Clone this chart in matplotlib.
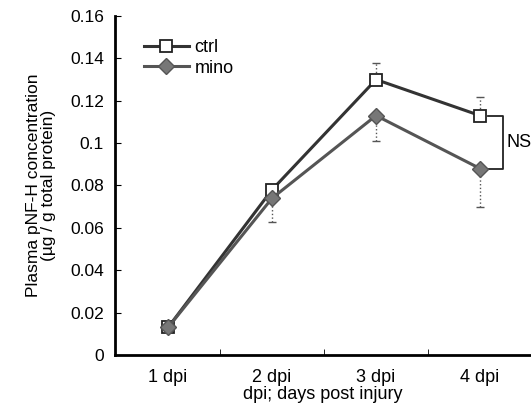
import matplotlib.pyplot as plt
import numpy as np

plt.rcParams['font.family'] = ['Liberation Sans', 'DejaVu Sans']

days = ['1 dpi', '2 dpi', '3 dpi', '4 dpi']
ctrl = [0.013, 0.078, 0.130, 0.113]
ctrl_err = [0.0, 0.0, 0.008, 0.009]
mino = [0.013, 0.074, 0.113, 0.088]
mino_err = [0.0, 0.011, 0.012, 0.018]
yticks = [0, 0.02, 0.04, 0.06, 0.08, 0.1, 0.12, 0.14, 0.16]
ytick_labels = ['0', '0.02', '0.04', '0.06', '0.08', '0.1', '0.12', '0.14', '0.16']

x = np.arange(1, len(days) + 1)

fig = plt.figure(figsize=(5.31, 4.04), dpi=100)
ax = fig.add_axes([0.2166, 0.1213, 0.7834, 0.8391])

# error bars: ctrl up only, mino down only
ax.errorbar(x, ctrl, yerr=[np.zeros(4), ctrl_err], fmt='none', ecolor='#555555',
            elinewidth=1, capsize=3, capthick=1, zorder=1)
ax.errorbar(x, mino, yerr=[mino_err, np.zeros(4)], fmt='none', ecolor='#555555',
            elinewidth=1, capsize=3, capthick=1, zorder=1)
for c in ax.collections:
    c.set_linestyle(':')

ax.plot(x, ctrl, color='#333333', lw=2.2, marker='s', ms=8.5, mfc='white',
        mec='#222222', mew=1.3, label='ctrl', zorder=3)
ax.plot(x, mino, color='#555555', lw=2.2, marker='D', ms=8, mfc='#777777',
        mec='#555555', mew=1, label='mino', zorder=4)

# NS bracket between 4 dpi points
ax.plot([4.08, 4.22, 4.22, 4.08], [ctrl[3], ctrl[3], mino[3], mino[3]],
        color='#222222', lw=1.3, clip_on=False)
ax.text(4.25, (ctrl[3] + mino[3]) / 2, 'NS', fontsize=13, va='center', ha='left',
        clip_on=False)

ax.set_xlim(0.49, 4.49)
ax.set_ylim(0, 0.16)
ax.set_xticks(x)
ax.set_xticklabels(days, fontsize=13)
ax.set_xticks([1.5, 2.5, 3.5], minor=True)
ax.tick_params(axis='x', which='major', length=0, pad=10)
ax.tick_params(axis='x', which='minor', direction='in', length=4)
ax.set_yticks(yticks)
ax.set_yticklabels(ytick_labels, fontsize=12.5)
ax.tick_params(axis='y', direction='in', length=4, pad=8)

ax.spines['top'].set_visible(False)
ax.spines['right'].set_visible(False)
ax.spines['left'].set_linewidth(2)
ax.spines['bottom'].set_linewidth(2)

ax.set_xlabel('dpi; days post injury', fontsize=13, labelpad=0)
ax.set_ylabel('Plasma pNF-H concentration\n(µg / g total protein)', fontsize=12.5,
              linespacing=1.05, labelpad=10)

ax.legend(loc='upper left', bbox_to_anchor=(0.03, 0.98), frameon=False,
          fontsize=13, handlelength=2.5, handletextpad=0.3, labelspacing=0.2)

fig.savefig('out.png', dpi=100)
